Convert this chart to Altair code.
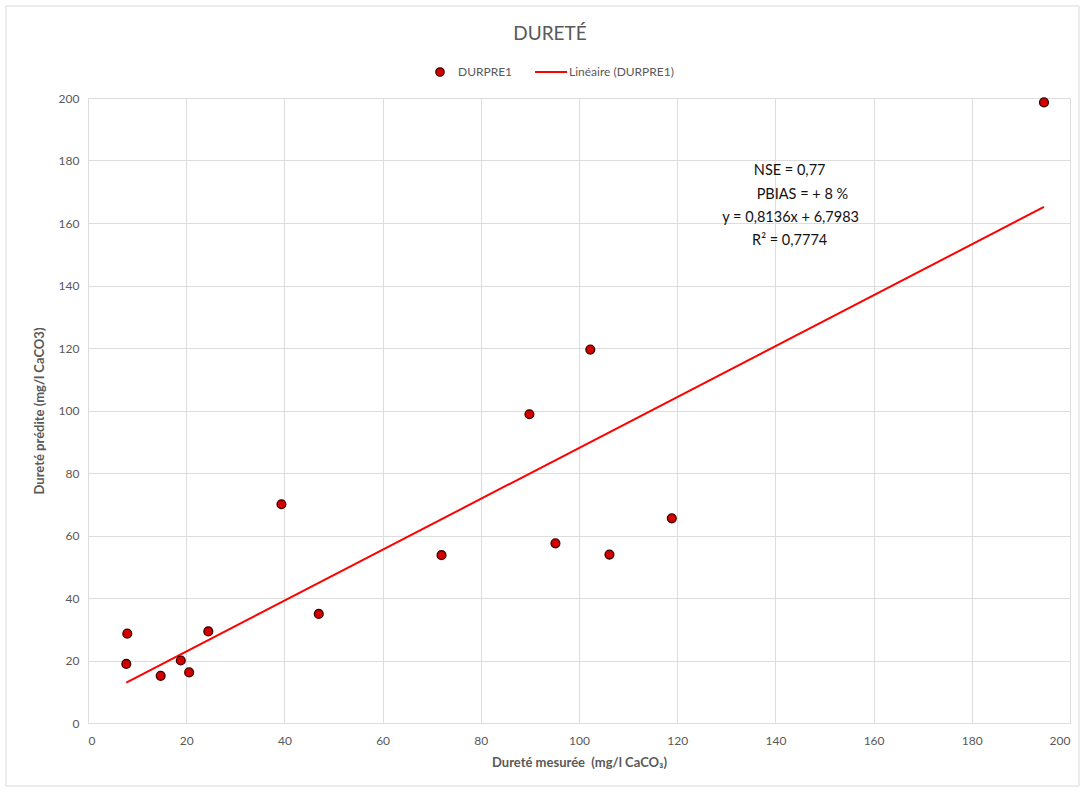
import altair as alt
import pandas as pd

x_measured = [8.0, 7.8, 14.8, 18.9, 20.6, 24.5, 39.4, 47.0, 72.0, 89.9, 95.2, 102.3, 106.2, 118.9, 194.7]
y_predicted = [28.6, 18.9, 15.1, 20.0, 16.2, 29.3, 70.0, 34.9, 53.7, 98.8, 57.5, 119.5, 53.9, 65.5, 198.6]

axis_ticks = [0, 20, 40, 60, 80, 100, 120, 140, 160, 180, 200]

ann_text = ["NSE = 0,77", "PBIAS = + 8 %", "y = 0,8136x + 6,7983", "R² = 0,7774"]
ann_x = [142.9, 145.5, 143.1, 142.9]
ann_y = [176.5, 169.1, 161.7, 154.4]

FONT = "Lato"
GRAY = "#595959"
GRID = "#dddddd"

pts = pd.DataFrame({"x": x_measured, "y": y_predicted})

xscale = alt.Scale(domain=[0, 200], nice=False, zero=False)
yscale = alt.Scale(domain=[0, 200], nice=False, zero=False)

xaxis = alt.Axis(values=axis_ticks, title="Dureté mesurée\u00a0 (mg/l CaCO₃)", grid=True,
                 domain=False, ticks=False, labelPadding=12, titlePadding=10,
                 labelFontSize=12, titleFontSize=13, titleFontWeight="bold",
                 labelColor=GRAY, titleColor=GRAY, labelFont=FONT, titleFont=FONT,
                 gridColor=GRID)
yaxis = alt.Axis(values=axis_ticks, title="Dureté prédite (mg/l CaCO3)", grid=True,
                 domain=False, ticks=False, labelPadding=9, titlePadding=12,
                 labelFontSize=12, titleFontSize=13, titleFontWeight="bold",
                 labelColor=GRAY, titleColor=GRAY, labelFont=FONT, titleFont=FONT,
                 gridColor=GRID)

base = alt.Chart(pts)

trend = base.transform_regression("x", "y").mark_line(
    color="#ff0000", strokeWidth=2
).encode(
    x=alt.X("x:Q", scale=xscale, axis=xaxis),
    y=alt.Y("y:Q", scale=yscale, axis=yaxis),
)

points = base.mark_circle(
    size=78, color="#d40000", stroke="#3b0000", strokeWidth=1.3, opacity=1
).encode(
    x=alt.X("x:Q", scale=xscale),
    y=alt.Y("y:Q", scale=yscale),
)

ann = alt.Chart(pd.DataFrame({"t": ann_text, "x": ann_x, "y": ann_y})).mark_text(
    font=FONT, fontSize=14.5, color="#111111", align="center", baseline="middle"
).encode(
    x=alt.X("x:Q", scale=xscale),
    y=alt.Y("y:Q", scale=yscale),
    text="t:N",
)

one = pd.DataFrame({"a": [0]})

title = alt.Chart(one).mark_text(
    text="DURETÉ", font=FONT, fontSize=19, color=GRAY, align="center", baseline="middle"
).encode(x=alt.value(462), y=alt.value(-64))

leg_dot = alt.Chart(one).mark_circle(
    size=70, color="#d40000", stroke="#3b0000", strokeWidth=1.3, opacity=1
).encode(x=alt.value(352), y=alt.value(-26))

leg_t1 = alt.Chart(one).mark_text(
    text="DURPRE1", font=FONT, fontSize=12, color=GRAY, align="left", baseline="middle"
).encode(x=alt.value(370), y=alt.value(-26))

leg_line = alt.Chart(one).mark_rule(color="#ff0000", strokeWidth=2).encode(
    x=alt.value(447), x2=alt.value(479), y=alt.value(-26)
)

leg_t2 = alt.Chart(one).mark_text(
    text="Linéaire (DURPRE1)", font=FONT, fontSize=12, color=GRAY, align="left", baseline="middle"
).encode(x=alt.value(481), y=alt.value(-26))

frame = alt.Chart(one).mark_rect(
    fillOpacity=0, stroke="#d9d9d9", strokeWidth=1
).encode(x=alt.value(-82), x2=alt.value(991), y=alt.value(-92), y2=alt.value(688))

chart = alt.layer(
    frame, trend, points, ann, title, leg_dot, leg_t1, leg_line, leg_t2
).properties(
    width=982, height=625,
    autosize=alt.AutoSizeParams(type="none"),
    padding={"left": 88, "top": 98, "right": 14, "bottom": 69},
    background="white",
).configure_view(
    stroke="#d9d9d9", strokeWidth=1
)

chart.save("out.html", embed_options={"renderer": "svg", "actions": False})
